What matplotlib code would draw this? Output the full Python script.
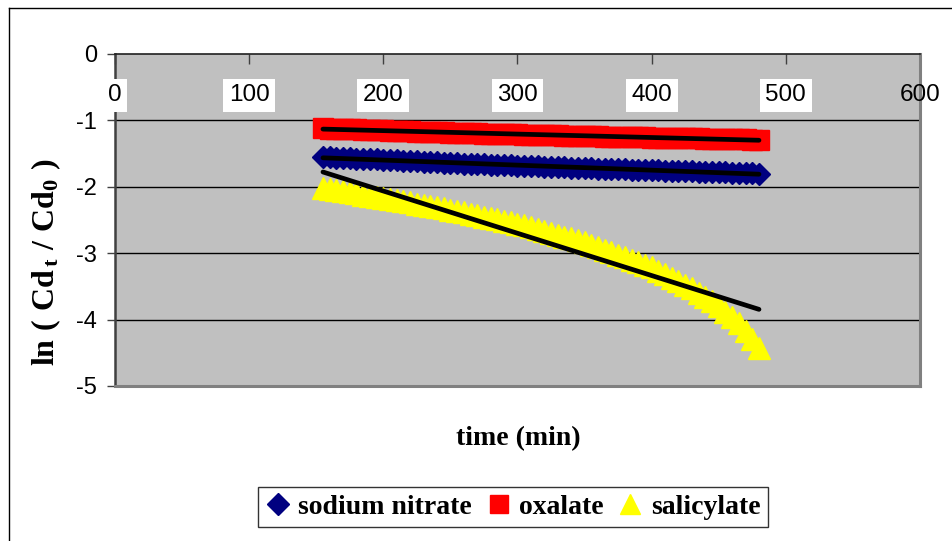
import numpy as np
import matplotlib
matplotlib.use("Agg")
import matplotlib.pyplot as plt
from matplotlib.lines import Line2D

plt.rcParams['mathtext.fontset'] = 'custom'
plt.rcParams['mathtext.rm'] = 'Liberation Serif:bold'
plt.rcParams['mathtext.bf'] = 'Liberation Serif:bold'
plt.rcParams['mathtext.it'] = 'Liberation Serif:bold'

# ---------------- data ----------------
time_min = [155, 160, 165, 170, 175, 180, 185, 190, 195, 200,
            205, 210, 215, 220, 225, 230, 235, 240, 245, 250,
            255, 260, 265, 270, 275, 280, 285, 290, 295, 300,
            305, 310, 315, 320, 325, 330, 335, 340, 345, 350,
            355, 360, 365, 370, 375, 380, 385, 390, 395, 400,
            405, 410, 415, 420, 425, 430, 435, 440, 445, 450,
            455, 460, 465, 470, 475, 480]

sodium_nitrate = [-1.550, -1.555, -1.560, -1.564, -1.569, -1.574, -1.579, -1.584, -1.588, -1.593,
                  -1.598, -1.603, -1.608, -1.612, -1.617, -1.622, -1.627, -1.632, -1.636, -1.641,
                  -1.646, -1.650, -1.654, -1.657, -1.661, -1.665, -1.669, -1.673, -1.676, -1.680,
                  -1.684, -1.688, -1.692, -1.695, -1.699, -1.703, -1.707, -1.711, -1.714, -1.718,
                  -1.722, -1.725, -1.728, -1.731, -1.734, -1.738, -1.741, -1.744, -1.747, -1.750,
                  -1.753, -1.756, -1.759, -1.762, -1.765, -1.769, -1.772, -1.775, -1.778, -1.781,
                  -1.784, -1.787, -1.790, -1.793, -1.796, -1.800]

oxalate = [-1.120, -1.123, -1.127, -1.130, -1.134, -1.137, -1.140, -1.144, -1.147, -1.151,
           -1.154, -1.157, -1.161, -1.164, -1.168, -1.171, -1.174, -1.178, -1.181, -1.185,
           -1.188, -1.191, -1.193, -1.196, -1.198, -1.201, -1.204, -1.206, -1.209, -1.211,
           -1.214, -1.217, -1.219, -1.222, -1.224, -1.227, -1.230, -1.232, -1.235, -1.237,
           -1.240, -1.242, -1.244, -1.246, -1.248, -1.250, -1.252, -1.254, -1.256, -1.258,
           -1.260, -1.262, -1.264, -1.266, -1.268, -1.270, -1.272, -1.274, -1.276, -1.278,
           -1.280, -1.282, -1.284, -1.286, -1.288, -1.290]

salicylate = [-2.020, -2.036, -2.052, -2.068, -2.084, -2.100, -2.116, -2.132, -2.148, -2.164,
              -2.182, -2.200, -2.218, -2.236, -2.254, -2.272, -2.290, -2.308, -2.326, -2.344,
              -2.365, -2.386, -2.407, -2.428, -2.449, -2.470, -2.491, -2.512, -2.533, -2.554,
              -2.582, -2.610, -2.638, -2.666, -2.694, -2.722, -2.750, -2.778, -2.806, -2.834,
              -2.872, -2.909, -2.947, -2.984, -3.022, -3.059, -3.097, -3.134, -3.172, -3.209,
              -3.262, -3.314, -3.367, -3.419, -3.472, -3.524, -3.592, -3.659, -3.727, -3.794,
              -3.879, -3.964, -4.049, -4.174, -4.299, -4.424]

series_names = ["sodium nitrate", "oxalate", "salicylate"]
x_ticks = [0, 100, 200, 300, 400, 500, 600]
x_tick_labels = ["0", "100", "200", "300", "400", "500", "600"]
y_ticks = [-5, -4, -3, -2, -1, 0]
y_tick_labels = ["-5", "-4", "-3", "-2", "-1", "0"]

# ---------------- figure ----------------
W, H = 953, 541
fig = plt.figure(figsize=(W / 100, H / 100), dpi=100)

# outer chart border (left and top visible)
fig.add_artist(Line2D([9.5 / W, 9.5 / W], [0, 1 - 7.5 / H], color='black', lw=1.0))
fig.add_artist(Line2D([9.5 / W, 1], [1 - 7.5 / H, 1 - 7.5 / H], color='black', lw=1.0))

L, R, T, B = 115, 920, 54, 386
ax = fig.add_axes([L / W, 1 - B / H, (R - L) / W, (B - T) / H])
ax.set_facecolor('#C0C0C0')
ax.set_xlim(0, 600)
ax.set_ylim(-5, 0)

# grid
for yv in y_ticks[1:-1]:
    ax.axhline(yv, color='black', lw=1.0, zorder=1)

# spines
ax.spines['top'].set_color('#202020')
ax.spines['top'].set_linewidth(1.2)
ax.spines['left'].set_color('#404040')
ax.spines['left'].set_linewidth(1.8)
ax.spines['right'].set_color('#808080')
ax.spines['right'].set_linewidth(2.2)
ax.spines['bottom'].set_color('#808080')
ax.spines['bottom'].set_linewidth(2.2)

# y ticks
ax.set_yticks(y_ticks)
ax.set_yticklabels(y_tick_labels, fontfamily='Liberation Sans', fontsize=17)
ax.tick_params(axis='y', direction='out', length=6, width=1, color='#404040', pad=7)

# x ticks on top axis (inside), labels drawn below axis line with white boxes
ax.xaxis.tick_top()
ax.set_xticks(x_ticks)
ax.set_xticklabels([])
ax.tick_params(axis='x', direction='in', length=7, width=1, color='#404040')
for xv, lab in zip(x_ticks, x_tick_labels):
    bb = dict(facecolor='white', edgecolor='none', pad=4) if xv != x_ticks[-1] else None
    ax.text(xv, -0.62, lab, ha='center', va='center', fontsize=17.5,
            fontfamily='Liberation Sans', bbox=bb, zorder=6, clip_on=False)

# series
t = np.array(time_min)
ax.plot(t, sodium_nitrate, ls='none', marker='D', ms=11.5, color='#000080',
        mec='#000080', zorder=3, clip_on=False)
ax.plot(t, oxalate, ls='none', marker='s', ms=15, color='#FF0000',
        mec='#FF0000', zorder=3, clip_on=False)
ax.plot(t, salicylate, ls='none', marker='^', ms=16, color='#FFFF00',
        mec='#FFFF00', zorder=3, clip_on=False)

# linear trendlines
for ys in (sodium_nitrate, oxalate, salicylate):
    k, b0 = np.polyfit(t, ys, 1)
    xx = np.array([t.min(), t.max()])
    ax.plot(xx, k * xx + b0, color='black', lw=3.4, solid_capstyle='round', zorder=4)

# axis titles
fig.text(518 / W, 1 - 439 / H, 'time (min)', ha='center', va='center',
         fontfamily='Liberation Serif', fontweight='bold', fontsize=20)
fig.text(46 / W, 1 - 262 / H, r'$\mathbf{ln\ (\ Cd_{\,t}\ /\ Cd_{0}\ )}$',
         rotation=90, ha='center', va='center', fontsize=23)

# legend
handles = [Line2D([], [], ls='none', marker='D', ms=11, color='#000080'),
           Line2D([], [], ls='none', marker='s', ms=13, color='#FF0000'),
           Line2D([], [], ls='none', marker='^', ms=14, color='#FFFF00')]
leg = fig.legend(handles, series_names, loc='center', bbox_to_anchor=(513 / W, 1 - 507 / H),
                 ncol=3, frameon=True, fancybox=False, handlelength=0.9, handletextpad=0.3,
                 columnspacing=0.5, borderpad=0.25, borderaxespad=0,
                 prop={'family': 'Liberation Serif', 'weight': 'bold', 'size': 20})
leg.get_frame().set_edgecolor('black')
leg.get_frame().set_linewidth(1.0)

fig.savefig('out.png', dpi=100)
